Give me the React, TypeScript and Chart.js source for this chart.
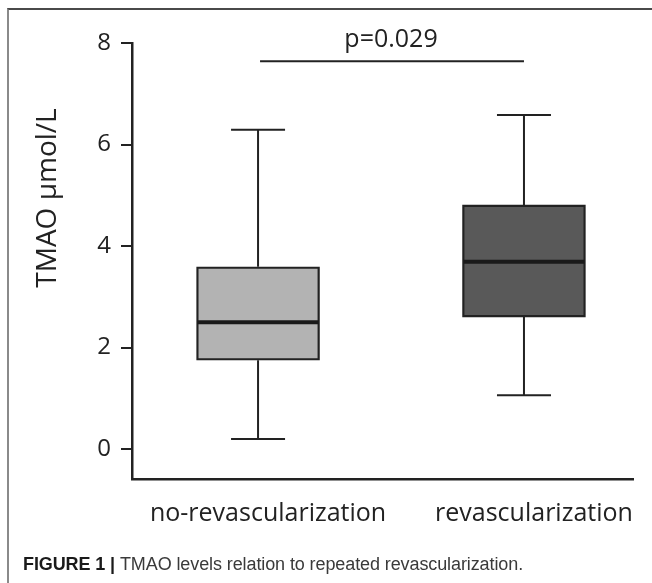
import React, { useEffect, useRef } from "react";
import { Chart, registerables } from "chart.js";

Chart.register(...registerables);

// ---- data ----
const categories = ["no-revascularization", "revascularization"];
const categoryPositions = [1, 2];
const whiskerLow = [0.2, 1.06];
const q1 = [1.75, 2.6];
const median = [2.5, 3.69];
const q3 = [3.59, 4.81];
const whiskerHigh = [6.29, 6.58];
const yTicks = [0, 2, 4, 6, 8];
const pLabel = "p=0.029";
const pLineValue = 7.64;
const yTitle = "TMAO µmol/L";

// ---- style ----
const boxColors = ["#b3b3b3", "#595959"];
const ink = "#222222";
const FONT = "'Open Sans', 'DejaVu Sans', sans-serif";
const CAP_HALF = 27;
const BOX_W = 123;

const boxPlugin = {
  id: "boxExtras",
  afterDatasetsDraw(chart: any) {
    const { ctx, scales } = chart;
    const xs = scales.x;
    const ys = scales.y;
    ctx.save();
    ctx.strokeStyle = ink;
    ctx.lineCap = "butt";
    categoryPositions.forEach((pos, i) => {
      const cx = xs.getPixelForValue(pos);
      const half = BOX_W / 2;
      ctx.lineWidth = 2;
      ctx.strokeStyle = ink;
      ctx.beginPath();
      ctx.moveTo(cx, ys.getPixelForValue(q3[i]));
      ctx.lineTo(cx, ys.getPixelForValue(whiskerHigh[i]));
      ctx.moveTo(cx, ys.getPixelForValue(q1[i]));
      ctx.lineTo(cx, ys.getPixelForValue(whiskerLow[i]));
      ctx.moveTo(cx - CAP_HALF, ys.getPixelForValue(whiskerHigh[i]));
      ctx.lineTo(cx + CAP_HALF, ys.getPixelForValue(whiskerHigh[i]));
      ctx.moveTo(cx - CAP_HALF, ys.getPixelForValue(whiskerLow[i]));
      ctx.lineTo(cx + CAP_HALF, ys.getPixelForValue(whiskerLow[i]));
      ctx.stroke();
      ctx.lineWidth = 4;
      ctx.strokeStyle = "#1a1a1a";
      ctx.beginPath();
      ctx.moveTo(cx - half + 1, ys.getPixelForValue(median[i]));
      ctx.lineTo(cx + half - 1, ys.getPixelForValue(median[i]));
      ctx.stroke();
    });
    const ly = ys.getPixelForValue(pLineValue);
    const x1 = xs.getPixelForValue(categoryPositions[0]);
    const x2 = xs.getPixelForValue(categoryPositions[1]);
    ctx.lineWidth = 2;
    ctx.strokeStyle = ink;
    ctx.beginPath();
    ctx.moveTo(x1 + 2, ly);
    ctx.lineTo(x2, ly);
    ctx.stroke();
    ctx.fillStyle = ink;
    ctx.font = `25px ${FONT}`;
    ctx.textAlign = "center";
    ctx.textBaseline = "alphabetic";
    ctx.fillText(pLabel, (x1 + x2) / 2, ly - 14);
    ctx.save();
    ctx.translate(56, 198);
    ctx.rotate(-Math.PI / 2);
    ctx.font = `28px ${FONT}`;
    ctx.textAlign = "center";
    ctx.textBaseline = "alphabetic";
    ctx.fillText(yTitle, 0, 0);
    ctx.restore();
    ctx.restore();
  },
};

export default function App() {
  const ref = useRef<HTMLCanvasElement | null>(null);

  useEffect(() => {
    if (!ref.current) return;
    const chart = new Chart(ref.current, {
      type: "bar",
      data: {
        datasets: [
          {
            data: categoryPositions.map((x, i) => ({ x, y: [q1[i], q3[i]] })) as any,
            backgroundColor: boxColors,
            borderColor: ink,
            borderWidth: 2.3,
            borderSkipped: false,
            barThickness: BOX_W,
          },
        ],
      },
      options: {
        animation: false,
        responsive: false,
        events: [],
        layout: { padding: { left: 0, top: 43, right: 19, bottom: 0 } },
        plugins: { legend: { display: false }, tooltip: { enabled: false } },
        scales: {
          x: {
            type: "linear",
            offset: false,
            bounds: "data",
            min: 0.526,
            max: 2.41,
            afterBuildTicks: (s: any) => {
              s.ticks = categoryPositions.map((v) => ({ value: v }));
            },
            afterFit: (s: any) => {
              s.height = 104;
            },
            grid: { display: false, drawTicks: false, offset: false },
            border: { display: true, color: ink, width: 2.5 },
            ticks: {
              padding: 20,
              labelOffset: 10,
              color: ink,
              font: { family: FONT, size: 25 },
              maxRotation: 0,
              autoSkip: false,
              callback: (v: any) => categories[categoryPositions.indexOf(Number(v))] ?? "",
            },
          },
          y: {
            type: "linear",
            min: -0.59,
            max: 8,
            afterBuildTicks: (s: any) => {
              s.ticks = yTicks.map((v) => ({ value: v }));
            },
            afterFit: (s: any) => {
              s.width = 132;
            },
            grid: {
              display: true,
              drawOnChartArea: false,
              drawTicks: true,
              tickLength: 11,
              color: ink,
              lineWidth: 2,
            },
            border: { display: true, color: ink, width: 2.5 },
            ticks: {
              padding: 10,
              color: ink,
              font: { family: FONT, size: 24 },
            },
          },
        },
      },
      plugins: [boxPlugin],
    });
    return () => chart.destroy();
  }, []);

  return (
    <div style={{ position: "absolute", left: 0, top: 0, width: 652, height: 583, background: "#fff", overflow: "hidden" }}>
      <div
        style={{
          position: "absolute",
          left: 7,
          top: 8,
          width: 660,
          height: 600,
          borderTop: "2px solid #4a4a4a",
          borderLeft: "2px solid #8a8a8a",
          boxSizing: "border-box",
        }}
      />
      <canvas ref={ref} width={652} height={583} style={{ position: "absolute", left: 0, top: 0, width: 652, height: 583 }} />
      <div
        style={{
          position: "absolute",
          left: 23,
          top: 554,
          fontFamily: "'Liberation Sans', Arial, sans-serif",
          fontSize: 18,
          lineHeight: "20px",
          color: "#3a3a3a",
          whiteSpace: "nowrap",
          letterSpacing: "-0.1px",
        }}
      >
        <span style={{ fontWeight: "bold", color: "#1a1a1a" }}>FIGURE 1 | </span>
        TMAO levels relation to repeated revascularization.
      </div>
    </div>
  );
}
